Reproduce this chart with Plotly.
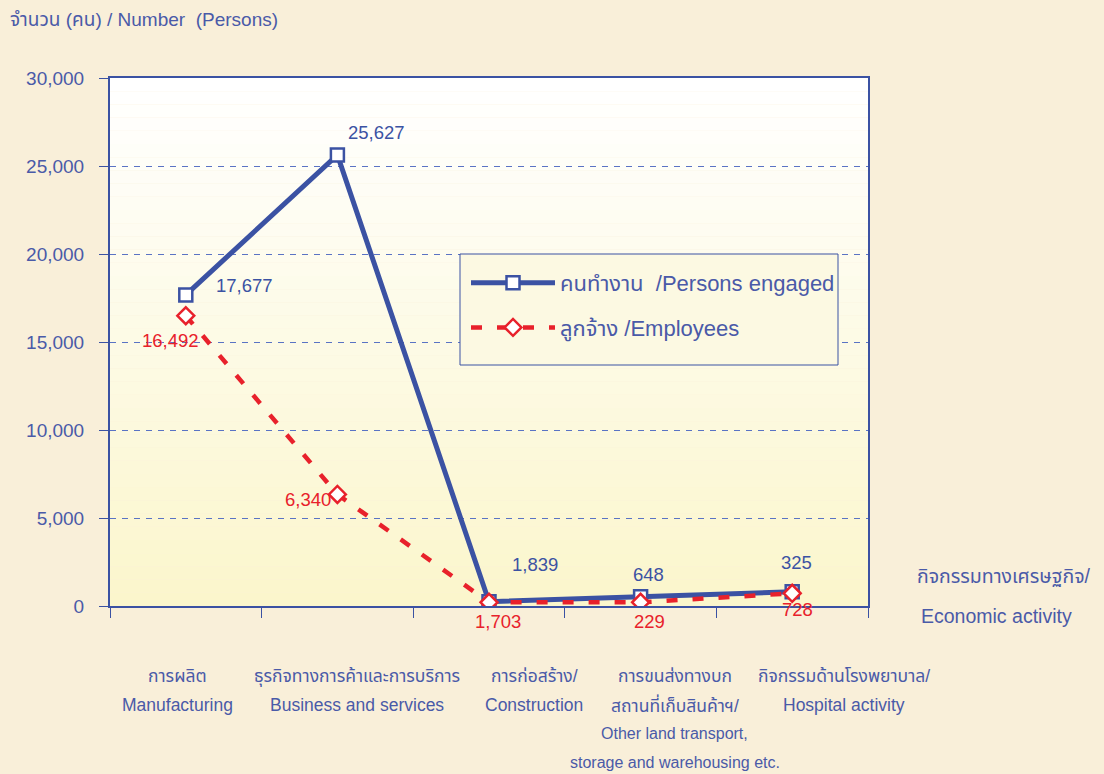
import plotly.graph_objects as go

# ---- data ----
categories = [
    ["การผลิต", "Manufacturing"],
    ["ธุรกิจทางการค้าและการบริการ", "Business and services"],
    ["การก่อสร้าง/", "Construction"],
    ["การขนส่งทางบก", "สถานที่เก็บสินค้าฯ/", "Other land transport,", "storage and warehousing etc."],
    ["กิจกรรมด้านโรงพยาบาล/", "Hospital activity"],
]
persons_engaged = [17677, 25627, 245, 528, 810]
employees = [16492, 6340, 210, 210, 720]
persons_labels = ["17,677", "25,627", "1,839", "648", "325"]
employees_labels = ["16,492", "6,340", "1,703", "229", "728"]
y_ticks = [0, 5000, 10000, 15000, 20000, 25000, 30000]

BLUE = "#3b52a3"
TXT = "#4a5aa8"
RED = "#e8212b"
FONT = "Arial, Liberation Sans, Noto Sans Thai, Noto Sans, sans-serif"

x = list(range(len(categories)))

fig = go.Figure()
fig.add_trace(go.Scatter(
    x=x, y=persons_engaged, mode="lines+markers",
    name="คนทำงาน  /Persons engaged", legendgroup="a",
    line=dict(color=BLUE, width=5),
    marker=dict(symbol="square", size=13, color="white", line=dict(color=BLUE, width=2.5)),
))
fig.add_trace(go.Scatter(
    x=x, y=employees, mode="lines+markers",
    name="ลูกจ้าง /Employees", legendgroup="b",
    line=dict(color=RED, width=4.5, dash="11px,15px"),
    marker=dict(symbol="diamond", size=13, color="white", line=dict(color=RED, width=2.5)),
))

# gradient plot background
n = 40
top = (255, 255, 255)
bot = (251, 246, 204)
for i in range(n):
    t = i / (n - 1)
    c = tuple(round(top[k] + (bot[k] - top[k]) * t) for k in range(3))
    fig.add_shape(type="rect", xref="x domain", yref="y domain",
                  x0=0, x1=1, y0=1 - (i + 1) / n, y1=1 - i / n,
                  fillcolor="rgb(%d,%d,%d)" % c, line=dict(width=0), layer="below")

# legend box
fig.add_shape(type="rect", xref="paper", yref="paper",
              x0=(460 - 110) / 758, x1=(838 - 110) / 758,
              y0=(606 - 365) / 528, y1=(606 - 254) / 528,
              fillcolor="#fcf9e2", line=dict(color=BLUE, width=1), layer="above")

annotations = []
p_off = [(59, 9), (39, 22), (46, 37), (8, 22), (4, 29)]
e_off = [(-15, -25), (-29, -5), (9, -19), (9, -19), (5, -16)]
for i in x:
    annotations.append(dict(x=i, y=persons_engaged[i], text=persons_labels[i], showarrow=False,
                            xanchor="center", yanchor="middle",
                            xshift=p_off[i][0], yshift=p_off[i][1], font=dict(size=18.5, color=BLUE, family=FONT)))
    annotations.append(dict(x=i, y=employees[i], text=employees_labels[i], showarrow=False,
                            xanchor="center", yanchor="middle",
                            xshift=e_off[i][0], yshift=e_off[i][1], font=dict(size=18.5, color=RED, family=FONT)))

# category labels
line_y = [676, 705, 733, 762]
cat_shift = [-8, 20, 45, 34, 52]
for i, lines in enumerate(categories):
    for j, ln in enumerate(lines):
        annotations.append(dict(x=i, xref="x", xshift=cat_shift[i], y=(606 - line_y[j]) / 528, yref="paper",
                                text=ln, showarrow=False, xanchor="center", yanchor="middle",
                                font=dict(size=17.5 if j < 2 else 16, color=TXT, family=FONT)))

annotations.append(dict(x=0, xref="paper", xshift=-102, y=(606 - 20) / 528, yref="paper",
                        xanchor="left", yanchor="middle",
                        text="จำนวน (คน) / Number  (Persons)", showarrow=False,
                        font=dict(size=19, color=TXT, family=FONT)))
annotations.append(dict(x=(1004 - 110) / 758, xref="paper", y=(606 - 576) / 528, yref="paper",
                        xanchor="center", yanchor="middle",
                        text="กิจกรรมทางเศรษฐกิจ/", showarrow=False,
                        font=dict(size=19.5, color=TXT, family=FONT)))
annotations.append(dict(x=(997 - 110) / 758, xref="paper", y=(606 - 616) / 528, yref="paper",
                        xanchor="center", yanchor="middle",
                        text="Economic activity", showarrow=False,
                        font=dict(size=19.5, color=TXT, family=FONT)))

fig.update_layout(
    width=1104, height=774,
    margin=dict(l=110, r=236, t=78, b=168),
    paper_bgcolor="#f9efd9",
    plot_bgcolor="rgba(0,0,0,0)",
    font=dict(family=FONT, color=TXT),
    showlegend=True,
    legend=dict(x=(466 - 110) / 758, y=(606 - 262) / 528, xanchor="left", yanchor="top",
                bgcolor="rgba(0,0,0,0)", borderwidth=0,
                font=dict(size=22, color=TXT, family=FONT), itemwidth=84,
                tracegroupgap=13),
    annotations=annotations,
)
fig.update_xaxes(range=[-0.5, 4.5], tickmode="array",
                 tickvals=[-0.5, 0.5, 1.5, 2.5, 3.5, 4.5], ticktext=[""] * 6,
                 ticks="outside", ticklen=10, tickcolor=BLUE, tickwidth=1,
                 showgrid=False, zeroline=False, showline=True, linecolor=BLUE, linewidth=2, mirror=True)
fig.update_yaxes(range=[0, 30000], tickmode="array", tickvals=y_ticks,
                 ticktext=[f"{v:,}" for v in y_ticks],
                 tickfont=dict(size=19, color=TXT, family=FONT),
                 ticks="outside", ticklen=9, tickcolor=BLUE, ticklabelstandoff=11,
                 showgrid=True, gridcolor="#5a73c4", griddash="6px,6px", gridwidth=1,
                 zeroline=False, showline=True, linecolor=BLUE, linewidth=2, mirror=True)

fig.write_html("out.html", config={"displayModeBar": False},
               post_script="document.body.style.margin='0';document.body.style.background='#f9efd9';")
